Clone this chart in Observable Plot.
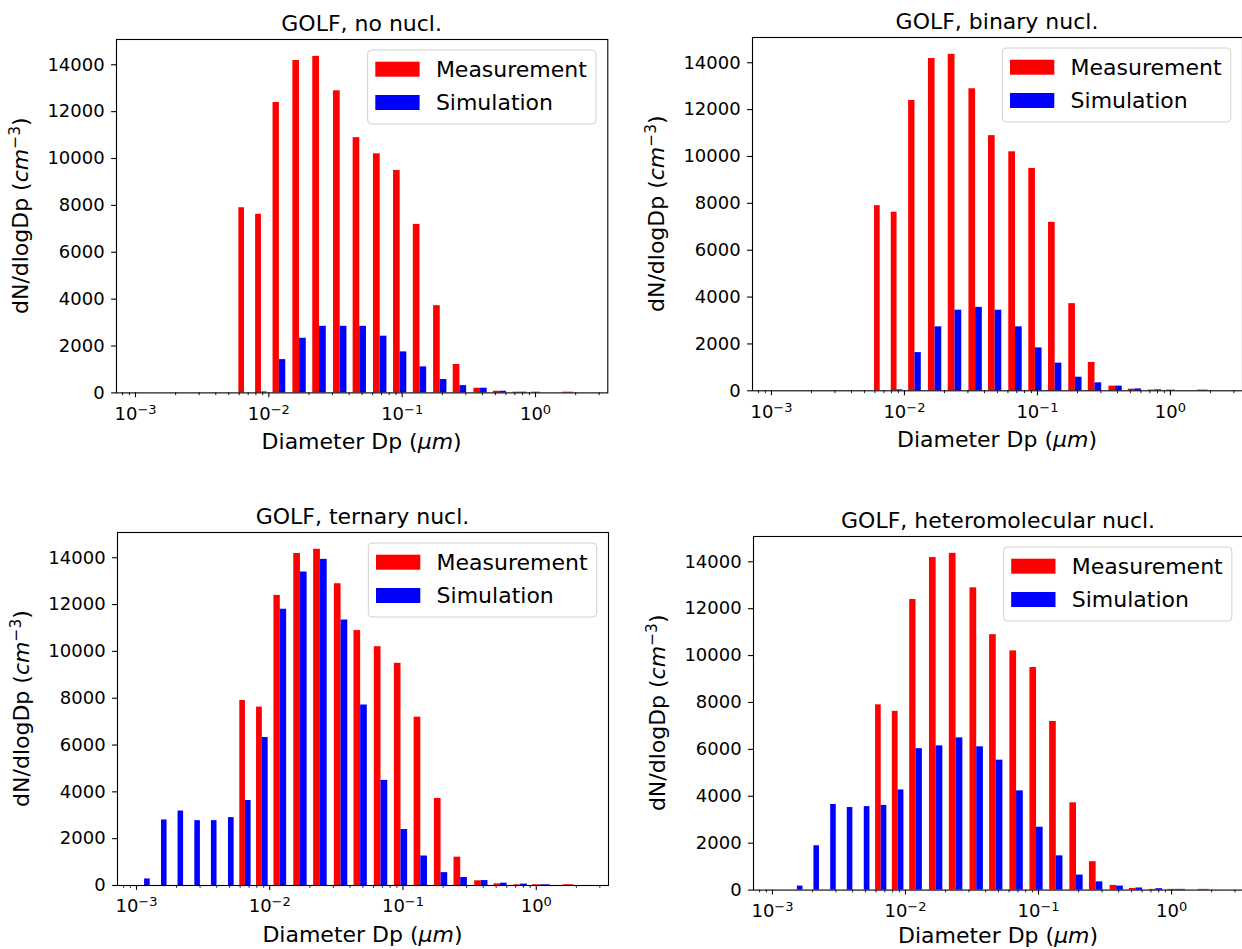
<!DOCTYPE html>
<html><head><meta charset="utf-8">
<script src="https://cdn.jsdelivr.net/npm/d3@7"></script>
<script src="https://cdn.jsdelivr.net/npm/@observablehq/plot@0.6"></script>
<style>
html,body{margin:0;padding:0;background:#fff;}
#root{position:relative;width:1242px;height:949px;overflow:hidden;font-family:"DejaVu Sans",sans-serif;}
#root svg{position:absolute;}
</style></head><body><div id="root"></div>
<script>
// ---- data ----
const diameters = [0.00115, 0.00154, 0.00205, 0.00274, 0.00365, 0.0049, 0.00657, 0.0088, 0.012, 0.017, 0.024, 0.0343, 0.0481, 0.0684, 0.0966, 0.136, 0.193, 0.271, 0.387, 0.54, 0.763, 1.09, 1.92];
const measurement = [0, 0, 0, 0, 0, 0, 7900, 7620, 12390, 14180, 14360, 12890, 10890, 10200, 9490, 7190, 3720, 1210, 200, 70, 30, 30, 30];
const simNoNucl = [0, 0, 0, 0, 0, 0, 0, 40, 1420, 2330, 2840, 2840, 2840, 2420, 1750, 1110, 570, 310, 200, 70, 30, 0, 0];
const simBinary = [0, 0, 0, 0, 0, 0, 0, 40, 1630, 2730, 3440, 3560, 3440, 2730, 1830, 1180, 580, 340, 200, 80, 40, 0, 0];
const simTernary = [280, 2800, 3180, 2770, 2770, 2900, 3630, 6320, 11800, 13390, 13930, 11340, 7710, 4490, 2390, 1260, 550, 340, 210, 100, 60, 30, 0];
const simHetero = [0, 170, 1890, 3650, 3520, 3560, 3610, 4270, 6030, 6150, 6490, 6110, 5540, 4230, 2680, 1460, 640, 350, 170, 90, 60, 30, 0];
const panelTitles = ["GOLF, no nucl.", "GOLF, binary nucl.", "GOLF, ternary nucl.", "GOLF, heteromolecular nucl."];
const seriesNames = ["Measurement", "Simulation"];
const yTicks = [0, 2000, 4000, 6000, 8000, 10000, 12000, 14000];
const xMajorTicks = [0.001, 0.01, 0.1, 1];
const xMinorTicks = [0.0008, 0.0009, 0.002, 0.003, 0.004, 0.005, 0.006, 0.007, 0.008, 0.009,
  0.02, 0.03, 0.04, 0.05, 0.06, 0.07, 0.08, 0.09, 0.2, 0.3, 0.4, 0.5, 0.6, 0.7, 0.8, 0.9, 2, 3];

// ---- layout ----
const PAGE_H = 949;
const frames = [
  {L: 116, R: 607.3, T: 39.3, B: 392.7},
  {L: 751.7, R: 1241.7, T: 36.7, B: 390},
  {L: 117.3, R: 608.3, T: 532.3, B: 885.3},
  {L: 753.3, R: 1243.5, T: 535.7, B: 889.3}
];
const sims = [simNoNucl, simBinary, simTernary, simHetero];
const RED = "#ff0000", BLUE = "#0000ff";
const ns = "http://www.w3.org/2000/svg";

const logD = diameters.map(Math.log10);
const barW = logD.map((v, i) => {
  const gp = i > 0 ? v - logD[i - 1] : null;
  const gn = i < logD.length - 1 ? logD[i + 1] - v : null;
  const g = gp == null ? gn : gn == null ? gp : (gp + gn) / 2;
  return g / 3;
});

function el(parent, tag, attrs, text) {
  const e = document.createElementNS(ns, tag);
  for (const k in attrs) e.setAttribute(k, attrs[k]);
  if (text != null) e.textContent = text;
  parent.appendChild(e);
  return e;
}

function panel(title, sim, f) {
  const mL = 116, mR = 2, mT = 39, mB = 72;
  const fw = f.R - f.L, fh = f.B - f.T;
  const W = fw + mL + mR, H = fh + mT + mB;
  const meas = [], simRows = [];
  diameters.forEach((d, i) => {
    const w = Math.pow(10, barW[i]);
    if (measurement[i] > 0) meas.push({x1: d / w, x2: d, y: measurement[i]});
    if (sim[i] > 0) simRows.push({x1: d, x2: d * w, y: sim[i]});
  });
  const svg = Plot.plot({
    width: W, height: H,
    marginLeft: mL, marginRight: mR, marginTop: mT, marginBottom: mB,
    style: {fontFamily: "'DejaVu Sans', sans-serif", fontSize: "18px", color: "#000", background: "transparent", overflow: "visible"},
    x: {type: "log", domain: [Math.pow(10, -3.1425), Math.pow(10, 0.542)], label: null},
    y: {domain: [0, 15078], label: null},
    marks: [
      Plot.rect(meas, {x1: "x1", x2: "x2", y1: 0, y2: "y", fill: RED}),
      Plot.rect(simRows, {x1: "x1", x2: "x2", y1: 0, y2: "y", fill: BLUE}),
      Plot.axisX({ticks: xMinorTicks, tickSize: 2.8, tickFormat: () => "", strokeWidth: 0.9, label: null}),
      Plot.axisX({ticks: xMajorTicks, tickSize: 4.9, tickPadding: 9.3, strokeWidth: 1.1,
        tickFormat: d => "10^" + Math.round(Math.log10(d)), label: null}),
      Plot.axisY({ticks: yTicks, tickSize: 4.9, tickPadding: 7, strokeWidth: 1.1, tickFormat: d => String(d), label: null}),
      Plot.frame({stroke: "#000", strokeWidth: 1.1})
    ]
  });
  const top = f.T - mT;
  svg.style.left = (f.L - mL) + "px";
  svg.style.top = top + "px";

  // superscript exponents on x tick labels
  svg.querySelectorAll('g[aria-label="x-axis tick label"] text').forEach(t => {
    const s = t.textContent;
    if (!s.includes("^")) return;
    const [b, e] = s.split("^");
    t.textContent = b;
    el(t, "tspan", {dy: "-6", "font-size": "13"}, e.replace("-", "\u2212"));
  });

  const g = el(svg, "g", {"font-family": "'DejaVu Sans', sans-serif", fill: "#000", "text-anchor": "start"});
  // title
  el(g, "text", {x: mL + fw / 2, y: mT - 8, "text-anchor": "middle", "font-size": 22}, title);
  // x label (kept inside the page)
  const xlY = Math.min(mT + fh + 57, PAGE_H - top - 6);
  const xl = el(g, "text", {x: mL + fw / 2, y: xlY, "text-anchor": "middle", "font-size": 22}, "Diameter Dp (");
  el(xl, "tspan", {"font-style": "italic"}, "\u03BCm");
  el(xl, "tspan", {}, ")");
  // y label
  const yl = el(g, "text", {transform: `translate(${mL - 88},${mT + fh / 2}) rotate(-90)`, "text-anchor": "middle", "font-size": 22}, "dN/dlogDp (");
  el(yl, "tspan", {"font-style": "italic"}, "cm");
  el(yl, "tspan", {dy: "-8", "font-size": 15.5}, "\u22123");
  el(yl, "tspan", {dy: "8"}, ")");
  // legend
  const bw = 228.4, bh = 74;
  const bx = mL + fw - 11.3 - bw, by = mT + 11;
  el(g, "rect", {x: bx, y: by, width: bw, height: bh, rx: 4, ry: 4, fill: "#fff", "fill-opacity": 0.8, stroke: "#d0d0d0", "stroke-width": 1});
  el(g, "rect", {x: bx + 7.7, y: by + 11.7, width: 44.3, height: 15, fill: RED});
  el(g, "rect", {x: bx + 7.7, y: by + 45, width: 44.3, height: 15, fill: BLUE});
  el(g, "text", {x: bx + 68.3, y: by + 26.7, "font-size": 22, "text-anchor": "start"}, seriesNames[0]);
  el(g, "text", {x: bx + 68.3, y: by + 60, "font-size": 22, "text-anchor": "start"}, seriesNames[1]);

  document.getElementById("root").appendChild(svg);
}

panelTitles.forEach((t, i) => panel(t, sims[i], frames[i]));
</script>
</body></html>
